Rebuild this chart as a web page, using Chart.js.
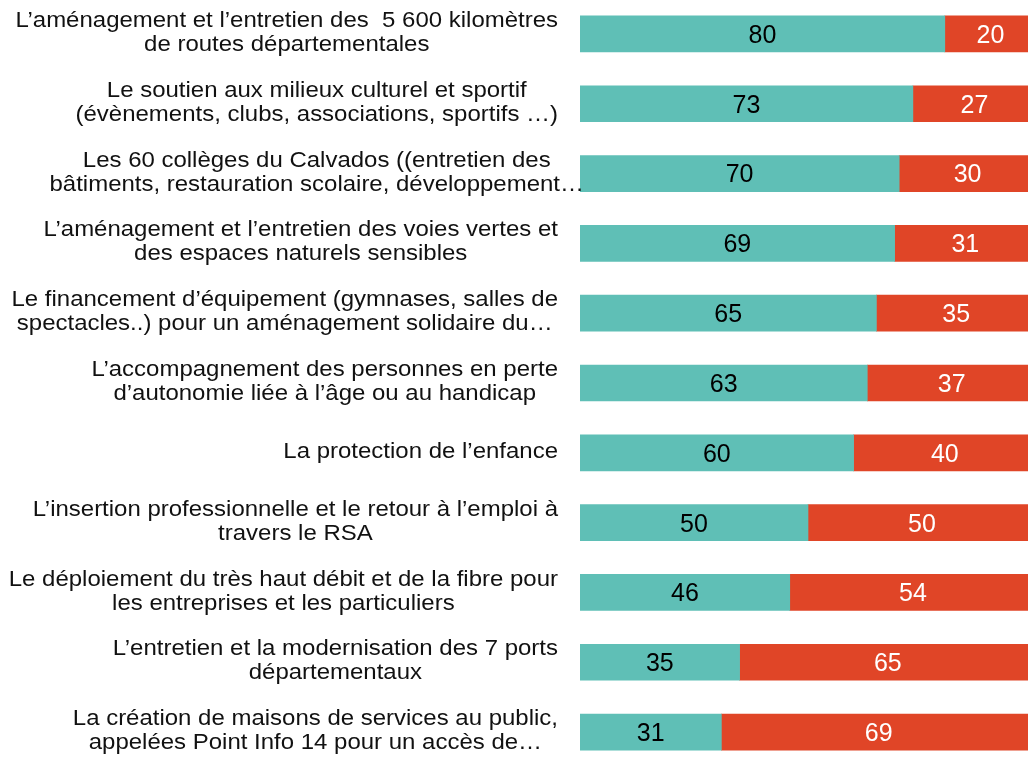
<!DOCTYPE html>
<html>
<head>
  <title>Priorités du Département</title>
  <script src="https://cdn.jsdelivr.net/npm/chart.js"></script>
  <style>
    html, body {
      margin: 0;
      padding: 0;
      background: #ffffff;
      overflow: hidden;
      width: 1028px;
      height: 757px;
    }
    #chart {
      position: absolute;
      left: 0;
      top: -1px;
    }
  </style>
</head>
<body>
  <canvas id="chart" width="1040" height="768"></canvas>

  <script>
    const categories = [
      ['L\u2019aménagement et l\u2019entretien des  5 600 kilomètres', 'de routes départementales'],
      ['Le soutien aux milieux culturel et sportif', '(évènements, clubs, associations, sportifs \u2026)'],
      ['Les 60 collèges du Calvados ((entretien des', 'bâtiments, restauration scolaire, développement\u2026'],
      ['L\u2019aménagement et l\u2019entretien des voies vertes et', 'des espaces naturels sensibles'],
      ['Le financement d\u2019équipement (gymnases, salles de', 'spectacles..) pour un aménagement solidaire du\u2026'],
      ['L\u2019accompagnement des personnes en perte', 'd\u2019autonomie liée à l\u2019âge ou au handicap'],
      ['La protection de l\u2019enfance'],
      ['L\u2019insertion professionnelle et le retour à l\u2019emploi à', 'travers le RSA'],
      ['Le déploiement du très haut débit et de la fibre pour', 'les entreprises et les particuliers'],
      ['L\u2019entretien et la modernisation des 7 ports', 'départementaux'],
      ['La création de maisons de services au public,', 'appelées Point Info 14 pour un accès de\u2026']
    ];
    const importantValues = [80, 73, 70, 69, 65, 63, 60, 50, 46, 35, 31];
    const notImportantValues = [20, 27, 30, 31, 35, 37, 40, 50, 54, 65, 69];

    const teal = '#5fbfb6';
    const red = '#e04527';
    const fontFamily = '"Liberation Sans", Arial, sans-serif';

    // category labels, each block right aligned, lines centred inside the block.
    // the original text is a bit wider than plain Arial, hence the small x stretch
    const labelPlugin = {
      id: 'blockLabels',
      afterDraw(chart) {
        const ctx = chart.ctx;
        const yScale = chart.scales.y;
        const lineHeight = 24;
        const sx = 1.09;
        ctx.save();
        ctx.font = '22px ' + fontFamily;
        ctx.fillStyle = '#111111';
        ctx.textAlign = 'center';
        ctx.textBaseline = 'middle';
        categories.forEach((lines, i) => {
          // the colleges label overflows its box a little in the original
          const rightEdge = i === 2 ? 584 : 558;
          const cy = yScale.getPixelForValue(i) - 1;
          const widest = Math.max(...lines.map(l => ctx.measureText(l).width)) * sx;
          const cx = rightEdge - widest / 2;
          const top = cy - (lines.length - 1) * lineHeight / 2;
          lines.forEach((line, j) => {
            ctx.save();
            ctx.translate(cx, top + j * lineHeight);
            ctx.scale(sx, 1);
            ctx.fillText(line, 0, 0);
            ctx.restore();
          });
        });
        ctx.restore();
      }
    };

    // values written in the middle of each bar segment
    const valuePlugin = {
      id: 'barValues',
      afterDatasetsDraw(chart) {
        const ctx = chart.ctx;
        ctx.save();
        ctx.font = '25px ' + fontFamily;
        ctx.textAlign = 'center';
        ctx.textBaseline = 'middle';
        chart.data.datasets.forEach((ds, di) => {
          const meta = chart.getDatasetMeta(di);
          ctx.fillStyle = di === 0 ? '#000000' : '#ffffff';
          meta.data.forEach((bar, i) => {
            const x = (bar.x + bar.base) / 2;
            ctx.fillText(String(ds.data[i]), x, bar.y + 2);
          });
        });
        ctx.restore();
      }
    };

    const ctx = document.getElementById('chart').getContext('2d');
    const chart = new Chart(ctx, {
      type: 'bar',
      data: {
        labels: categories,
        datasets: [{
          label: 'Important',
          data: importantValues,
          backgroundColor: teal,
          borderWidth: 0,
          barThickness: 36
        }, {
          label: 'Pas important',
          data: notImportantValues,
          backgroundColor: red,
          borderWidth: 0,
          barThickness: 36
        }]
      },
      options: {
        indexAxis: 'y',
        responsive: false,
        animation: false,
        devicePixelRatio: 1,
        layout: {
          padding: { left: 580, right: 4, top: 0, bottom: 0 }
        },
        plugins: {
          legend: { display: false },
          tooltip: { enabled: false }
        },
        scales: {
          x: {
            stacked: true,
            min: 0,
            max: 100,
            display: false
          },
          y: {
            stacked: true,
            display: false
          }
        }
      },
      plugins: [labelPlugin, valuePlugin]
    });
  </script>
</body>
</html>
